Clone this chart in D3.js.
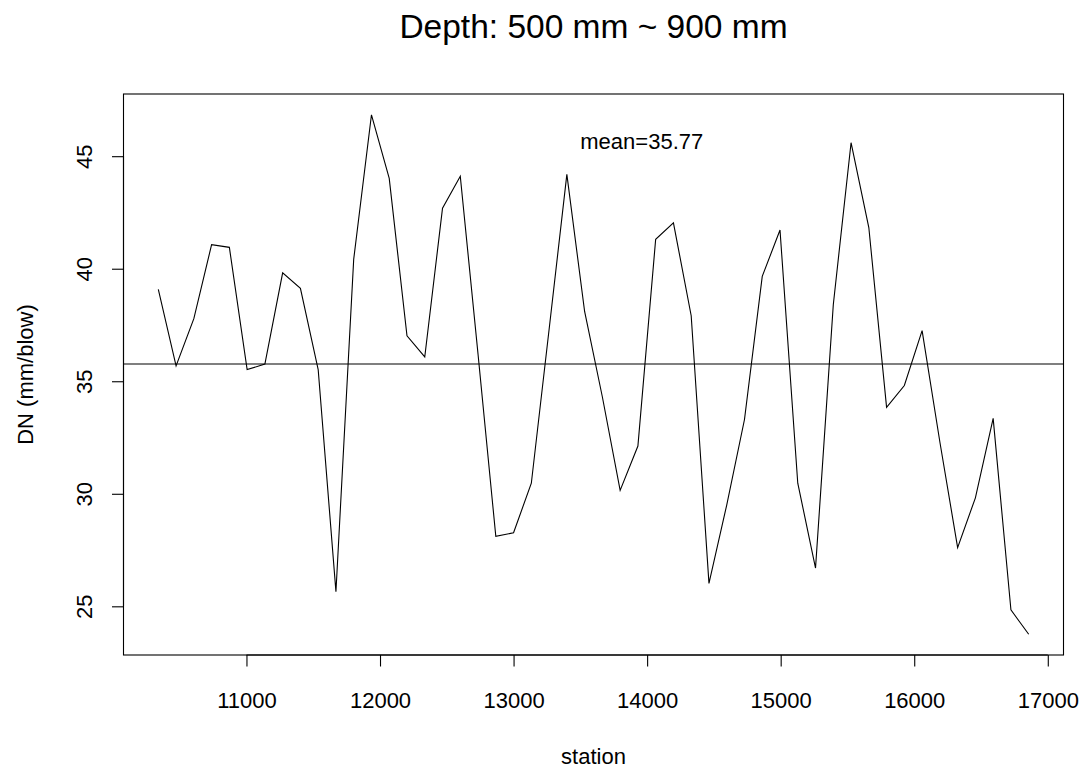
<!DOCTYPE html>
<html>
<head>
<meta charset="utf-8">
<script src="https://cdn.jsdelivr.net/npm/d3@7/dist/d3.min.js"></script>
<style>
  html, body { margin: 0; padding: 0; background: #ffffff; }
  svg { display: block; }
  text { font-family: "Liberation Sans", Arial, Helvetica, sans-serif; fill: #000; }
</style>
</head>
<body>
<svg id="chart" width="1081" height="769"></svg>
<script>
// ---- data ----
const stations = [
  10340, 10473, 10606, 10739, 10872, 11005, 11138, 11271, 11404, 11537,
  11670, 11803, 11936, 12069, 12202, 12335, 12468, 12601, 12734, 12867,
  13000, 13133, 13266, 13399, 13532, 13665, 13798, 13931, 14064, 14197,
  14330, 14463, 14596, 14729, 14862, 14995, 15128, 15261, 15394, 15527,
  15660, 15793, 15926, 16059, 16192, 16325, 16458, 16591, 16724, 16857
];
const dnValues = [
  39.08, 35.68, 37.78, 41.07, 40.95, 35.52, 35.76, 39.82, 39.13, 35.52,
  25.65, 40.42, 46.84, 44.01, 37.02, 36.08, 42.69, 44.11, 36.20, 28.11,
  28.27, 30.47, 37.30, 44.19, 38.10, 34.30, 30.15, 32.12, 41.31, 42.04,
  37.91, 26.02, 29.50, 33.30, 39.66, 41.72, 30.47, 26.70, 38.40, 45.60,
  41.83, 33.84, 34.81, 37.25, 32.30, 27.61, 29.82, 33.35, 24.84, 23.76
];
const xTicks = [11000, 12000, 13000, 14000, 15000, 16000, 17000];
const yTicks = [25, 30, 35, 40, 45];
const titleText = "Depth: 500 mm ~ 900 mm";
const xLabel = "station";
const yLabel = "DN (mm/blow)";

// ---- layout ----
const plot = { left: 123.5, right: 1063.5, top: 94, bottom: 655 };
const svg = d3.select("#chart");

// R-style 4% padding of the data range
const xExt = d3.extent(stations), yExt = d3.extent(dnValues);
const xPad = (xExt[1] - xExt[0]) * 0.04, yPad = (yExt[1] - yExt[0]) * 0.04;
const x = d3.scaleLinear().domain([xExt[0] - xPad, xExt[1] + xPad]).range([plot.left, plot.right]);
const y = d3.scaleLinear().domain([yExt[0] - yPad, yExt[1] + yPad]).range([plot.bottom, plot.top]);

const meanVal = d3.mean(dnValues);

// clip for lines inside plot region
svg.append("defs").append("clipPath").attr("id", "clip")
  .append("rect").attr("x", plot.left).attr("y", plot.top)
  .attr("width", plot.right - plot.left).attr("height", plot.bottom - plot.top);

// data line
const line = d3.line().x((d, i) => x(stations[i])).y(d => y(d));
svg.append("path")
  .datum(dnValues)
  .attr("d", line)
  .attr("fill", "none")
  .attr("stroke", "#000")
  .attr("stroke-width", 1.1)
  .attr("stroke-linejoin", "miter");

// mean line (abline)
svg.append("line")
  .attr("clip-path", "url(#clip)")
  .attr("x1", plot.left).attr("x2", plot.right)
  .attr("y1", y(meanVal)).attr("y2", y(meanVal))
  .attr("stroke", "#000").attr("stroke-width", 1.1);

// mean label
svg.append("text")
  .attr("x", x(13960))
  .attr("y", y(45.68))
  .attr("dy", "0.35em")
  .attr("text-anchor", "middle")
  .attr("font-size", 22)
  .text("mean=" + meanVal.toFixed(2));

// frame box
svg.append("rect")
  .attr("x", plot.left).attr("y", plot.top)
  .attr("width", plot.right - plot.left).attr("height", plot.bottom - plot.top)
  .attr("fill", "none").attr("stroke", "#000").attr("stroke-width", 1.1);

// x axis
const xAxis = d3.axisBottom(x).tickValues(xTicks).tickSize(11.5).tickPadding(0).tickFormat(d3.format("d"));
const gx = svg.append("g").attr("transform", `translate(0,${plot.bottom})`).call(xAxis);
gx.select(".domain").attr("d", `M${x(xTicks[0])},0H${x(xTicks[xTicks.length - 1])}`)
  .attr("stroke", "#000").attr("stroke-width", 1.1);
gx.selectAll(".tick line").attr("stroke", "#000").attr("stroke-width", 1.1);
gx.selectAll(".tick text")
  .attr("font-size", 22)
  .attr("font-family", "Liberation Sans, Arial, Helvetica, sans-serif")
  .attr("fill", "#000")
  .attr("dy", null)
  .attr("y", 53);

// y axis
const yAxis = d3.axisLeft(y).tickValues(yTicks).tickSize(11.5).tickFormat(d3.format("d"));
const gy = svg.append("g").attr("transform", `translate(${plot.left},0)`).call(yAxis);
gy.select(".domain").attr("d", `M0,${y(yTicks[0])}V${y(yTicks[yTicks.length - 1])}`)
  .attr("stroke", "#000").attr("stroke-width", 1.1);
gy.selectAll(".tick line").attr("stroke", "#000").attr("stroke-width", 1.1);
gy.selectAll(".tick text")
  .attr("font-size", 22)
  .attr("font-family", "Liberation Sans, Arial, Helvetica, sans-serif")
  .attr("fill", "#000")
  .attr("x", null).attr("dy", null)
  .attr("text-anchor", "middle")
  .attr("transform", `translate(${91.7 - plot.left},0) rotate(-90)`);

// title
svg.append("text")
  .attr("x", (plot.left + plot.right) / 2)
  .attr("y", 38)
  .attr("text-anchor", "middle")
  .attr("font-size", 33.5)
  .text(titleText);

// x label
svg.append("text")
  .attr("x", (plot.left + plot.right) / 2)
  .attr("y", 764)
  .attr("text-anchor", "middle")
  .attr("font-size", 22)
  .text(xLabel);

// y label
svg.append("text")
  .attr("transform", `translate(33,${(plot.top + plot.bottom) / 2}) rotate(-90)`)
  .attr("text-anchor", "middle")
  .attr("font-size", 22)
  .text(yLabel);
</script>
</body>
</html>
